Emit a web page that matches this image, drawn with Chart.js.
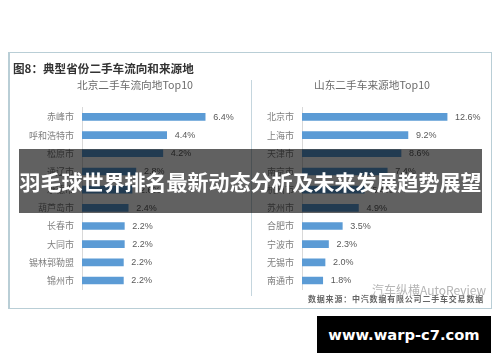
<!DOCTYPE html>
<html>
<head>
<meta charset="utf-8">
<script src="https://cdn.jsdelivr.net/npm/chart.js@4/dist/chart.umd.min.js"></script>
<style>
html, body { margin: 0; padding: 0; background: #fff; }
body { width: 500px; height: 362px; position: relative; overflow: hidden; font-family: "Noto Sans CJK SC", sans-serif; }
#page { position: absolute; left: 0; top: 0; width: 500px; height: 362px; filter: blur(0.45px); }
#frame { position: absolute; left: 8px; top: 52px; width: 484px; height: 257px; border: 1px solid #b9ced6; border-left-width: 2px; box-sizing: border-box; }
#divider { position: absolute; left: 251px; top: 80px; width: 1px; height: 216px; background: #c5d6de; }
#heading { position: absolute; left: 13px; top: 60px; font-size: 11.6px; line-height: 16px; font-weight: bold; color: #333; white-space: nowrap; }
canvas { position: absolute; }
#left { left: 20px; top: 75px; }
#right { left: 252px; top: 75px; }
#mark { position: absolute; left: 372px; top: 282px; font-size: 12px; line-height: 15px; color: #b5b5b5; white-space: nowrap; }
#source { position: absolute; left: 308px; top: 293px; font-size: 8px; line-height: 12px; font-weight: bold; letter-spacing: 0.8px; color: #666; white-space: nowrap; }
#banner { position: absolute; left: 19px; top: 149px; width: 463px; height: 64px; background: rgba(0,0,0,0.62); color: #fff; font-size: 21px; font-weight: bold; line-height: 64px; text-align: center; white-space: nowrap; }
#site { position: absolute; left: 317px; top: 316px; width: 174px; height: 37px; background: #000; color: #fff; font-family: "DejaVu Sans", sans-serif; font-size: 14.7px; font-weight: bold; line-height: 37px; text-align: center; white-space: nowrap; }
</style>
</head>
<body>
<div id="page">
  <div id="frame"></div>
  <div id="divider"></div>
  <div id="heading">图8：典型省份二手车流向和来源地</div>
  <canvas id="left" width="230" height="220"></canvas>
  <canvas id="right" width="240" height="220"></canvas>
  <div id="mark">汽车纵横AutoReview</div>
  <div id="source">数据来源：中汽数据有限公司二手车交易数据</div>
</div>
<div id="banner">羽毛球世界排名最新动态分析及未来发展趋势展望</div>
<div id="site">www.warp-c7.com</div>

<script>
const beijingCities = ['赤峰市', '呼和浩特市', '松原市', '通辽市', '承德市', '葫芦岛市', '长春市', '大同市', '锡林郭勒盟', '锦州市'];
const beijingValues = [6.4, 4.4, 4.2, 2.8, 2.6, 2.4, 2.2, 2.2, 2.15, 2.15];
const beijingLabels = ['6.4%', '4.4%', '4.2%', '2.8%', '2.6%', '2.4%', '2.2%', '2.2%', '2.2%', '2.2%'];

const shandongCities = ['北京市', '上海市', '天津市', '南京市', '杭州市', '苏州市', '合肥市', '宁波市', '无锡市', '南通市'];
const shandongValues = [12.6, 9.2, 8.6, 7.4, 5.4, 4.9, 3.5, 2.3, 2.0, 1.8];
const shandongLabels = ['12.6%', '9.2%', '8.6%', '7.4%', '5.4%', '4.9%', '3.5%', '2.3%', '2.0%', '1.8%'];

// draws the % text after each bar
const valueLabels = {
	id: 'valueLabels',
	afterDatasetsDraw(chart) {
		const ctx = chart.ctx;
		const texts = chart.options.plugins.valueLabels.texts;
		ctx.save();
		ctx.font = '9px "Liberation Sans", sans-serif';
		ctx.fillStyle = '#595959';
		ctx.textBaseline = 'middle';
		chart.getDatasetMeta(0).data.forEach((bar, i) => {
			ctx.fillText(texts[i], bar.x + 8, bar.y + 0.5);
		});
		ctx.restore();
	}
};

function drawChart(id, title, cities, values, texts, axisWidth, xMax) {
	new Chart(document.getElementById(id), {
		type: 'bar',
		data: {
			labels: cities,
			datasets: [{
				data: values,
				backgroundColor: '#5b9bd5',
				barThickness: 7
			}]
		},
		options: {
			indexAxis: 'y',
			responsive: false,
			animation: false,
			devicePixelRatio: 1,
			layout: { padding: 0 },
			scales: {
				x: { display: false, min: 0, max: xMax },
				y: {
					afterFit(scale) { scale.width = axisWidth; },
					grid: { display: false },
					border: { color: '#d9d9d9' },
					ticks: {
						color: '#7f7f7f',
						padding: 0,
						autoSkip: false,
						font: { size: 9, family: '"Noto Sans CJK SC"' }
					}
				}
			},
			plugins: {
				legend: { display: false },
				tooltip: { enabled: false },
				title: {
					display: true,
					text: title,
					color: '#6b6b6b',
					padding: { top: 4, bottom: 16 },
					font: { size: 10.7, weight: 'normal', family: '"Noto Sans CJK SC"' }
				},
				valueLabels: { texts: texts }
			}
		},
		plugins: [valueLabels]
	});
}

drawChart('left', '北京二手车流向地Top10', beijingCities, beijingValues, beijingLabels, 62, 8.73);
drawChart('right', '山东二手车来源地Top10', shandongCities, shandongValues, shandongLabels, 50, 16.5);
</script>
</body>
</html>
